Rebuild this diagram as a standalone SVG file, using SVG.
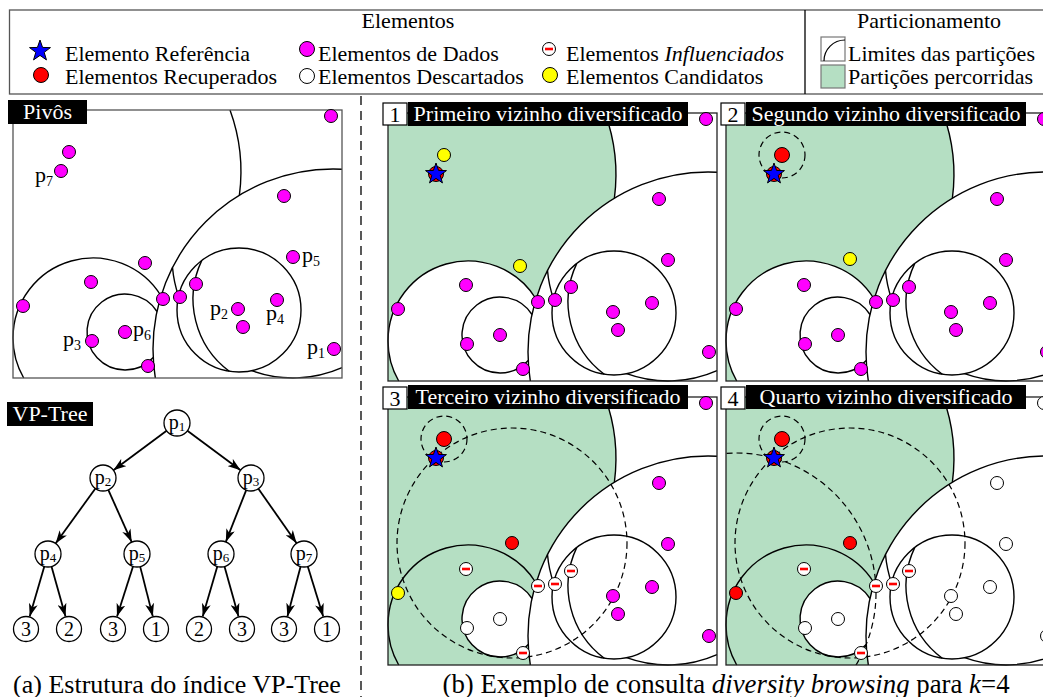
<svg xmlns="http://www.w3.org/2000/svg" xmlns:xlink="http://www.w3.org/1999/xlink" width="1043" height="697" viewBox="0 0 1043 697">
<style>
text{font-family:"Liberation Serif","Times New Roman",serif;fill:#000}
.lg{font-size:22px}
.cap{font-size:26px}
.capb{font-size:26.8px}
.wt{fill:#fff;font-size:22px}
.dot{stroke:#000;stroke-width:1}
.m{fill:#ff00ff}
.r{fill:#ff0000}
.y{fill:#ffff00}
.w{fill:#fff}
.arc{fill:none;stroke:#000;stroke-width:1.4}
.dash{fill:none;stroke:#000;stroke-width:1.2;stroke-dasharray:6 4}
.green{fill:#b5dfc3}
.pbox{fill:none;stroke:#222;stroke-width:1.3}
.tn{fill:#fff;stroke:#000;stroke-width:1.3}
.edge{stroke:#000;stroke-width:1.8;marker-end:url(#ah)}
.pl{font-size:22px}
.sub{font-size:14px}
.tl{font-size:20px}
.ts{font-size:13px}
.star{fill:#0000ff;stroke:#000;stroke-width:1}
</style>
<defs>
<marker id="ah" viewBox="0 0 13 9" refX="13" refY="4.5" markerWidth="13" markerHeight="9" markerUnits="userSpaceOnUse" orient="auto"><path d="M0,0 L13,4.5 L0,9 L3.5,4.5 Z" fill="#000"/></marker>
<circle id="dot" r="6.5"/>
<circle id="rdot" r="7.5"/>
<path id="star" d="M0,-11 L2.586,-3.56 L10.462,-3.399 L4.185,1.36 L6.466,8.899 L0,4.4 L-6.466,8.899 L-4.185,1.36 L-10.462,-3.399 L-2.586,-3.56 Z"/>
<g id="inf"><circle r="6.5" fill="#fff" stroke="#000" stroke-width="1"/><rect x="-4" y="-1.3" width="8" height="2.6" fill="#f00"/></g>
<clipPath id="boxclip"><rect x="13" y="110" width="329" height="268"/></clipPath>
<mask id="gA" maskUnits="userSpaceOnUse" x="0" y="0" width="400" height="400">
<circle cx="61" cy="171" r="180" fill="#fff"/>
<rect x="0" y="300" width="60" height="100" fill="#fff"/>
<circle cx="333" cy="349" r="180" fill="#000"/>
<circle cx="93" cy="338" r="80" fill="#000"/>
</mask>
<mask id="gB" maskUnits="userSpaceOnUse" x="0" y="0" width="400" height="400">
<circle cx="61" cy="171" r="180" fill="#fff"/>
<rect x="0" y="300" width="60" height="100" fill="#fff"/>
<circle cx="93" cy="338" r="80" fill="#fff"/>
<circle cx="333" cy="349" r="180" fill="#000"/>
<circle cx="125" cy="332" r="38" fill="#000"/>
</mask>
<g id="parts" class="arc">
<circle cx="333" cy="349" r="180" clip-path="url(#boxclip)"/>
<path d="M230,110 A180 180 0 0 1 239.4,195.2"/>
<path d="M161.1,296 A80 80 0 0 0 13,338 A80 80 0 0 0 23.7,378"/>
<path d="M157,311.5 A38 38 0 1 0 153.2,357.5"/>
<circle cx="239" cy="310" r="62"/>
<path d="M201.7,260.6 A90 90 0 0 0 229.3,371.3"/>
<path d="M172.5,267.5 A121 121 0 0 0 178.6,296.2"/>
<path d="M251.6,370.6 A121 121 0 0 0 342,367.6"/>
</g>
</defs>
<rect width="1043" height="697" fill="#fff"/>

<!-- Legend -->
<g id="legend">
<rect x="9.5" y="10" width="1040" height="84" fill="none" stroke="#555" stroke-width="1.3"/>
<line x1="805" y1="10" x2="805" y2="94" stroke="#000" stroke-width="1.3"/>
<text class="lg" x="408" y="28" text-anchor="middle">Elementos</text>
<text class="lg" x="929" y="28" text-anchor="middle">Particionamento</text>
<use href="#star" x="40" y="51" class="star"/>
<text class="lg" x="65" y="61">Elemento Referência</text>
<use href="#rdot" x="41" y="75" class="dot r"/>
<text class="lg" x="65" y="84">Elementos Recuperados</text>
<use href="#rdot" x="307" y="49" class="dot m"/>
<text class="lg" x="318" y="61">Elementos de Dados</text>
<use href="#rdot" x="307" y="76" class="dot w"/>
<text class="lg" x="318" y="84">Elementos Descartados</text>
<use href="#inf" x="549" y="49"/>
<text class="lg" x="566" y="61">Elementos <tspan font-style="italic">Influenciados</tspan></text>
<use href="#rdot" x="550" y="75" class="dot y"/>
<text class="lg" x="566" y="84">Elementos Candidatos</text>
<rect x="821" y="37" width="24" height="24" fill="#fff" stroke="#777" stroke-width="1.2"/>
<path d="M824,61 A21 21 0 0 1 845,40" fill="none" stroke="#000" stroke-width="1.2"/>
<text class="lg" x="848" y="61">Limites das partições</text>
<rect x="821" y="65" width="24" height="23" class="green" stroke="#777" stroke-width="1.2"/>
<text class="lg" x="848" y="84">Partições percorridas</text>
</g>

<!-- separator -->
<line x1="361" y1="96" x2="361" y2="697" stroke="#000" stroke-width="1.3" stroke-dasharray="9 6"/>

<!-- Pivots panel -->
<g id="pivos">
<use href="#parts"/>
<rect x="13" y="110" width="329" height="268" fill="none" stroke="#555" stroke-width="1.3"/>
<g class="dot m">
<use href="#dot" x="331" y="116"/><use href="#dot" x="69" y="152"/><use href="#dot" x="61" y="171"/><use href="#dot" x="284" y="196"/><use href="#dot" x="293" y="257"/><use href="#dot" x="145" y="263"/><use href="#dot" x="91" y="282"/><use href="#dot" x="23" y="306"/><use href="#dot" x="163" y="299"/><use href="#dot" x="180" y="297"/><use href="#dot" x="196" y="284"/><use href="#dot" x="238" y="309"/><use href="#dot" x="277" y="300"/><use href="#dot" x="243" y="327"/><use href="#dot" x="125" y="332"/><use href="#dot" x="92" y="341"/><use href="#dot" x="148" y="366"/><use href="#dot" x="334" y="349"/>
</g>
<text class="pl" x="35" y="182">p<tspan class="sub" dy="4">7</tspan></text>
<text class="pl" x="302" y="262">p<tspan class="sub" dy="4">5</tspan></text>
<text class="pl" x="210" y="315">p<tspan class="sub" dy="4">2</tspan></text>
<text class="pl" x="266" y="320">p<tspan class="sub" dy="4">4</tspan></text>
<text class="pl" x="133" y="336">p<tspan class="sub" dy="4">6</tspan></text>
<text class="pl" x="63" y="346">p<tspan class="sub" dy="4">3</tspan></text>
<text class="pl" x="307" y="354">p<tspan class="sub" dy="4">1</tspan></text>
<rect x="8" y="100" width="79" height="24" fill="#000"/>
<text class="wt" x="47.5" y="119" text-anchor="middle">Pivôs</text>
</g>

<!-- VP-Tree -->
<g id="vptree-label">
<rect x="7" y="402" width="86" height="24" fill="#000"/>
<text class="wt" x="50" y="421" text-anchor="middle">VP-Tree</text>
</g>
<g id="tree-edges">
<line class="edge" x1="166.6" y1="430.8" x2="113.4" y2="470.2"/>
<line class="edge" x1="187.4" y1="430.8" x2="240.6" y2="470.2"/>
<line class="edge" x1="95.4" y1="488.5" x2="55.6" y2="543.5"/>
<line class="edge" x1="108.3" y1="489.9" x2="131.7" y2="542.1"/>
<line class="edge" x1="246.2" y1="490.1" x2="225.8" y2="541.9"/>
<line class="edge" x1="258.4" y1="488.7" x2="296.6" y2="543.3"/>
<line class="edge" x1="44.3" y1="566.5" x2="29.7" y2="616.5"/>
<line class="edge" x1="51.5" y1="566.5" x2="65.5" y2="616.5"/>
<line class="edge" x1="133" y1="566.4" x2="117" y2="616.6"/>
<line class="edge" x1="140.2" y1="566.6" x2="152.8" y2="616.4"/>
<line class="edge" x1="217.3" y1="566.5" x2="202.7" y2="616.5"/>
<line class="edge" x1="224.5" y1="566.5" x2="238.5" y2="616.5"/>
<line class="edge" x1="300.6" y1="566.6" x2="287.4" y2="616.4"/>
<line class="edge" x1="307.8" y1="566.4" x2="323.2" y2="616.6"/>
</g>
<g id="t-p1"><circle class="tn" cx="177" cy="423" r="13"/><text class="tl" x="177" y="429" text-anchor="middle">p<tspan class="ts" dy="2">1</tspan></text></g>
<g id="t-p2"><circle class="tn" cx="103" cy="478" r="13"/><text class="tl" x="103" y="484" text-anchor="middle">p<tspan class="ts" dy="2">2</tspan></text></g>
<g id="t-p3"><circle class="tn" cx="251" cy="478" r="13"/><text class="tl" x="251" y="484" text-anchor="middle">p<tspan class="ts" dy="2">3</tspan></text></g>
<g id="t-p4"><circle class="tn" cx="48" cy="554" r="13"/><text class="tl" x="48" y="560" text-anchor="middle">p<tspan class="ts" dy="2">4</tspan></text></g>
<g id="t-p5"><circle class="tn" cx="137" cy="554" r="13"/><text class="tl" x="137" y="560" text-anchor="middle">p<tspan class="ts" dy="2">5</tspan></text></g>
<g id="t-p6"><circle class="tn" cx="221" cy="554" r="13"/><text class="tl" x="221" y="560" text-anchor="middle">p<tspan class="ts" dy="2">6</tspan></text></g>
<g id="t-p7"><circle class="tn" cx="304" cy="554" r="13"/><text class="tl" x="304" y="560" text-anchor="middle">p<tspan class="ts" dy="2">7</tspan></text></g>
<g id="t-l1"><circle class="tn" cx="26" cy="629" r="12.5"/><text class="tl" x="26" y="636" text-anchor="middle">3</text></g>
<g id="t-l2"><circle class="tn" cx="69" cy="629" r="12.5"/><text class="tl" x="69" y="636" text-anchor="middle">2</text></g>
<g id="t-l3"><circle class="tn" cx="113" cy="629" r="12.5"/><text class="tl" x="113" y="636" text-anchor="middle">3</text></g>
<g id="t-l4"><circle class="tn" cx="156" cy="629" r="12.5"/><text class="tl" x="156" y="636" text-anchor="middle">1</text></g>
<g id="t-l5"><circle class="tn" cx="199" cy="629" r="12.5"/><text class="tl" x="199" y="636" text-anchor="middle">2</text></g>
<g id="t-l6"><circle class="tn" cx="242" cy="629" r="12.5"/><text class="tl" x="242" y="636" text-anchor="middle">3</text></g>
<g id="t-l7"><circle class="tn" cx="284" cy="629" r="12.5"/><text class="tl" x="284" y="636" text-anchor="middle">3</text></g>
<g id="t-l8"><circle class="tn" cx="327" cy="629" r="12.5"/><text class="tl" x="327" y="636" text-anchor="middle">1</text></g>

<!-- Panel 1 -->
<g id="panel1" transform="translate(375,3)">
<rect class="green" x="13" y="110" width="329" height="268" mask="url(#gA)"/>
<use href="#parts"/>
<rect class="pbox" x="13" y="110" width="329" height="268"/>
<g class="dot m">
<use href="#dot" x="331" y="116"/><use href="#dot" x="284" y="196"/><use href="#dot" x="293" y="257"/><use href="#dot" x="91" y="282"/><use href="#dot" x="23" y="306"/><use href="#dot" x="163" y="299"/><use href="#dot" x="180" y="297"/><use href="#dot" x="196" y="284"/><use href="#dot" x="238" y="309"/><use href="#dot" x="277" y="300"/><use href="#dot" x="243" y="327"/><use href="#dot" x="125" y="332"/><use href="#dot" x="92" y="341"/><use href="#dot" x="148" y="366"/><use href="#dot" x="334" y="349"/>
</g>
<use href="#dot" x="69" y="152" class="dot y"/>
<use href="#dot" x="145" y="263" class="dot y"/>
<use href="#rdot" x="61" y="171" class="dot r"/>
<use href="#star" x="61" y="171" class="star"/>
<rect x="8" y="100" width="24" height="22" fill="#fff" stroke="#000" stroke-width="1.2"/>
<text class="lg" x="20" y="119" text-anchor="middle">1</text>
<rect x="33" y="99" width="280" height="24" fill="#000"/>
<text class="wt" x="173" y="118" text-anchor="middle">Primeiro vizinho diversificado</text>
</g>

<!-- Panel 2 -->
<g id="panel2" transform="translate(713,3)">
<rect class="green" x="13" y="110" width="329" height="268" mask="url(#gA)"/>
<use href="#parts"/>
<circle class="dash" cx="69" cy="152" r="23"/>
<rect class="pbox" x="13" y="110" width="329" height="268"/>
<g class="dot m">
<use href="#dot" x="331" y="116"/><use href="#dot" x="284" y="196"/><use href="#dot" x="293" y="257"/><use href="#dot" x="91" y="282"/><use href="#dot" x="23" y="306"/><use href="#dot" x="163" y="299"/><use href="#dot" x="180" y="297"/><use href="#dot" x="196" y="284"/><use href="#dot" x="238" y="309"/><use href="#dot" x="277" y="300"/><use href="#dot" x="243" y="327"/><use href="#dot" x="125" y="332"/><use href="#dot" x="92" y="341"/><use href="#dot" x="148" y="366"/><use href="#dot" x="334" y="349"/>
</g>
<use href="#rdot" x="69" y="152" class="dot r"/>
<use href="#dot" x="137" y="256" class="dot y"/>
<use href="#rdot" x="61" y="171" class="dot r"/>
<use href="#star" x="61" y="171" class="star"/>
<rect x="8" y="100" width="24" height="22" fill="#fff" stroke="#000" stroke-width="1.2"/>
<text class="lg" x="20" y="119" text-anchor="middle">2</text>
<rect x="33" y="99" width="280" height="24" fill="#000"/>
<text class="wt" x="173" y="118" text-anchor="middle">Segundo vizinho diversificado</text>
</g>

<!-- Panel 3 -->
<g id="panel3" transform="translate(375,287)">
<rect class="green" x="13" y="110" width="329" height="268" mask="url(#gB)"/>
<use href="#parts"/>
<g clip-path="url(#boxclip)">
<circle class="dash" cx="69" cy="152" r="23"/>
<circle class="dash" cx="137" cy="256" r="115"/>
</g>
<rect class="pbox" x="13" y="110" width="329" height="268"/>
<g class="dot m">
<use href="#dot" x="331" y="116"/><use href="#dot" x="284" y="196"/><use href="#dot" x="293" y="257"/><use href="#dot" x="238" y="309"/><use href="#dot" x="277" y="300"/><use href="#dot" x="243" y="327"/><use href="#dot" x="334" y="349"/>
</g>
<g class="dot w"><use href="#dot" x="125" y="332"/><use href="#dot" x="92" y="341"/></g>
<use href="#inf" x="91" y="282"/><use href="#inf" x="163" y="299"/><use href="#inf" x="180" y="297"/><use href="#inf" x="196" y="284"/><use href="#inf" x="148" y="366"/>
<use href="#dot" x="23" y="306" class="dot y"/>
<use href="#rdot" x="69" y="152" class="dot r"/>
<use href="#dot" x="137" y="256" class="dot r"/>
<use href="#rdot" x="61" y="171" class="dot r"/>
<use href="#star" x="61" y="171" class="star"/>
<rect x="8" y="100" width="24" height="22" fill="#fff" stroke="#000" stroke-width="1.2"/>
<text class="lg" x="20" y="119" text-anchor="middle">3</text>
<rect x="33" y="98" width="280" height="24" fill="#000"/>
<text class="wt" x="173" y="117" text-anchor="middle">Terceiro vizinho diversificado</text>
</g>

<!-- Panel 4 -->
<g id="panel4" transform="translate(713,287)">
<rect class="green" x="13" y="110" width="329" height="268" mask="url(#gB)"/>
<use href="#parts"/>
<g clip-path="url(#boxclip)">
<circle class="dash" cx="69" cy="152" r="23"/>
<circle class="dash" cx="137" cy="256" r="115"/>
<circle class="dash" cx="23" cy="306" r="140"/>
</g>
<rect class="pbox" x="13" y="110" width="329" height="268"/>
<g class="dot w">
<use href="#dot" x="331" y="116"/><use href="#dot" x="284" y="196"/><use href="#dot" x="293" y="257"/><use href="#dot" x="238" y="309"/><use href="#dot" x="277" y="300"/><use href="#dot" x="243" y="327"/><use href="#dot" x="334" y="349"/><use href="#dot" x="125" y="332"/><use href="#dot" x="92" y="341"/>
</g>
<use href="#inf" x="91" y="282"/><use href="#inf" x="163" y="299"/><use href="#inf" x="180" y="297"/><use href="#inf" x="196" y="284"/><use href="#inf" x="148" y="366"/>
<use href="#dot" x="23" y="306" class="dot r"/>
<use href="#rdot" x="69" y="152" class="dot r"/>
<use href="#dot" x="137" y="256" class="dot r"/>
<use href="#rdot" x="61" y="171" class="dot r"/>
<use href="#star" x="61" y="171" class="star"/>
<rect x="8" y="100" width="24" height="22" fill="#fff" stroke="#000" stroke-width="1.2"/>
<text class="lg" x="20" y="119" text-anchor="middle">4</text>
<rect x="33" y="98" width="280" height="24" fill="#000"/>
<text class="wt" x="173" y="117" text-anchor="middle">Quarto vizinho diversificado</text>
</g>

<!-- Captions -->
<text class="cap" x="177" y="693" text-anchor="middle">(a) Estrutura do índice VP-Tree</text>
<text class="capb" x="726" y="693" text-anchor="middle">(b) Exemplo de consulta <tspan font-style="italic">diversity browsing</tspan> para <tspan font-style="italic">k</tspan>=4</text>
</svg>
